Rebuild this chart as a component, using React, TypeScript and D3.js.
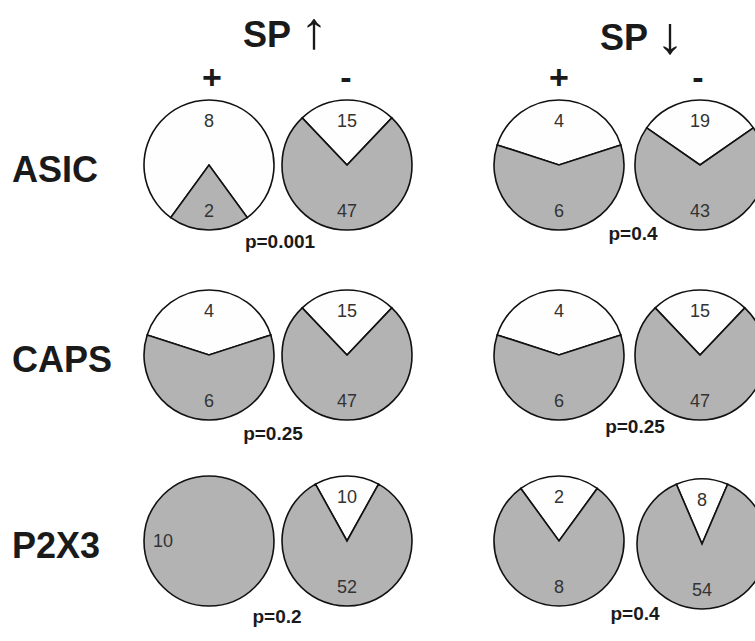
import React from "react";
import * as d3 from "d3";

// ---- data ----
const rowLabels = ["ASIC", "CAPS", "P2X3"];
const groupTitles = ["SP", "SP"];
const groupArrows = ["\u2191", "\u2193"];
const signLabels = ["+", "-"];
// counts per row: [SP↑+, SP↑-, SP↓+, SP↓-]; white = upper slice, gray = lower slice
const whiteCounts = [
  [8, 15, 4, 19],
  [4, 15, 4, 15],
  [0, 10, 2, 8],
];
const grayCounts = [
  [2, 47, 6, 43],
  [6, 47, 6, 47],
  [10, 52, 8, 54],
];
const pValues = [
  ["p=0.001", "p=0.4"],
  ["p=0.25", "p=0.25"],
  ["p=0.2", "p=0.4"],
];

// ---- layout ----
const W = 755;
const H = 641;
const R = 65;
const pieX = [209, 347, 559, 700];
const rowY = [165, 355, 541];
const pieDy = [
  [0, 0, 0, 0],
  [0, 0, 0, 0],
  [0, 0, 0, 3],
];
const pieDx = [
  [0, 0, 0, 0],
  [0, 0, 0, 0],
  [0, 0, 0, 2],
];
const pX = [
  [280, 633],
  [273, 635],
  [277, 635],
];
const pY = [
  [248, 240],
  [440, 433],
  [623, 620],
];
const titleX = [243, 600];
const titleY = [47, 50];
const arrowX = [314, 670];
const arrowY = [48, 53];
const signX = [212, 346, 559, 698];
const FONT = "'Liberation Sans', Arial, Helvetica, sans-serif";
const GRAY = "#b3b3b3";
const WHITE = "#fefefe";

function Pie({ cx, cy, w, g }: { cx: number; cy: number; w: number; g: number }) {
  const total = w + g;
  const a = (2 * Math.PI * w) / total;
  const pie = d3
    .pie<{ v: number; fill: string }>()
    .sort(null)
    .value((d) => d.v)
    .startAngle(-a / 2)
    .endAngle(2 * Math.PI - a / 2);
  const arc = d3.arc<d3.PieArcDatum<{ v: number; fill: string }>>().innerRadius(0).outerRadius(R);
  const arcs = pie([
    { v: w, fill: WHITE },
    { v: g, fill: GRAY },
  ]);
  return (
    <g transform={`translate(${cx},${cy})`}>
      {arcs
        .filter((d) => d.data.v > 0)
        .map((d, i) =>
          d.endAngle - d.startAngle >= 2 * Math.PI - 1e-6 ? (
            <circle key={i} r={R} fill={d.data.fill} stroke="#111" strokeWidth={1.6} />
          ) : (
            <path key={i} d={arc(d) || ""} fill={d.data.fill} stroke="#111" strokeWidth={1.6} strokeLinejoin="miter" />
          )
        )}
      {w > 0 ? (
        <>
          <text x={0} y={-38} textAnchor="middle" fontSize={18} fill="#333" fontFamily={FONT}>
            {w}
          </text>
          <text x={0} y={52} textAnchor="middle" fontSize={18} fill="#333" fontFamily={FONT}>
            {g}
          </text>
        </>
      ) : (
        <text x={-46} y={6} textAnchor="middle" fontSize={18} fill="#333" fontFamily={FONT}>
          {g}
        </text>
      )}
    </g>
  );
}

export default function App() {
  return (
    <div style={{ position: "absolute", left: 0, top: 0 }}>
      <svg width={W} height={H} viewBox={`0 0 ${W} ${H}`} style={{ display: "block", background: "#fff" }}>
        {groupTitles.map((t, i) => (
          <g key={i}>
            <text x={titleX[i]} y={titleY[i]} fontFamily={FONT} fontSize={36} fontWeight="bold" fill="#1a1a1a">
              {t}
            </text>
            <text
              x={arrowX[i]}
              y={arrowY[i]}
              textAnchor="middle"
              fontFamily={FONT}
              fontSize={52}
              fill="#1a1a1a"
              textLength={28}
              lengthAdjust="spacingAndGlyphs"
            >
              {groupArrows[i]}
            </text>
          </g>
        ))}
        {pieX.map((x, i) => (
          <text key={i} x={signX[i]} y={89} textAnchor="middle" fontFamily={FONT} fontSize={34} fontWeight="bold" fill="#1a1a1a">
            {signLabels[i % 2]}
          </text>
        ))}
        {rowLabels.map((lab, r) => (
          <text key={lab} x={12} y={rowY[r] + 17} fontFamily={FONT} fontSize={36} fontWeight="bold" fill="#1a1a1a">
            {lab}
          </text>
        ))}
        {rowLabels.map((lab, r) =>
          pieX.map((x, c) => (
            <Pie key={lab + c} cx={x + pieDx[r][c]} cy={rowY[r] + pieDy[r][c]} w={whiteCounts[r][c]} g={grayCounts[r][c]} />
          ))
        )}
        {pValues.map((row, r) =>
          row.map((p, gi) => (
            <text key={r + "-" + gi} x={pX[r][gi]} y={pY[r][gi]} textAnchor="middle" fontFamily={FONT} fontSize={19} fontWeight="bold" fill="#1a1a1a">
              {p}
            </text>
          ))
        )}
      </svg>
    </div>
  );
}
